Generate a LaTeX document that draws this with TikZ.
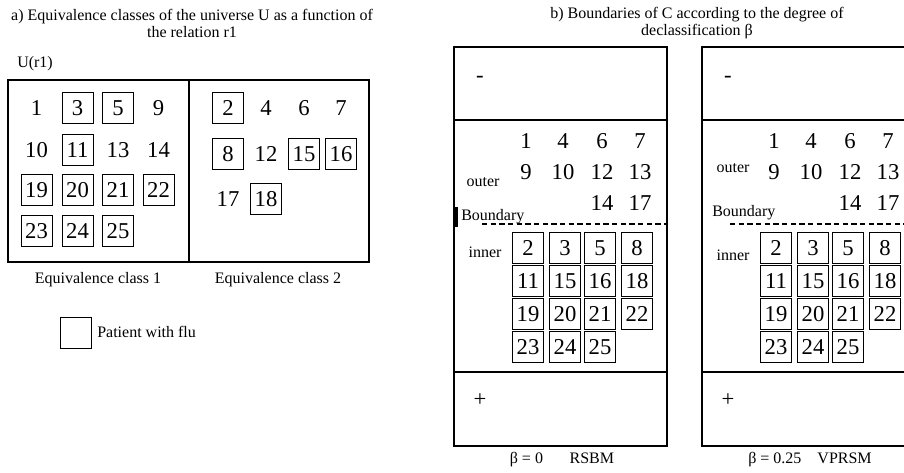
\documentclass[tikz,border=0pt]{standalone}
\usepackage{fontspec}
\setmainfont{Liberation Serif}

\tikzset{
    rahmen/.style={line width=2pt},
    zahl/.style={font=\fontsize{17}{20}\selectfont, inner sep=0pt},
    zahlbox/.style={zahl, draw, line width=0.6pt, minimum size=23.25pt},
    klein/.style={font=\fontsize{12}{12.75}\selectfont, inner sep=0pt},
    grenze/.style={line width=0.8pt, dash pattern=on 4pt off 2.5pt}
}

\begin{document}
\begin{tikzpicture}[x=0.75pt, y=-0.75pt]

        \useasboundingbox (0,0) rectangle (904,472);
        \clip (0,0) rectangle (904,472);

        \coordinate (universum) at (8,80);

        % Teil a
        \node [klein, align=center] (titela) at (192,23) {a) Equivalence classes of the universe U as a function of\\the relation r1};
        \node [klein, anchor=west] (ur) at (17,64) {U(r1)};

        \draw [rahmen] (universum) rectangle ++(361,182);
        \draw [rahmen] ([xshift=181*0.75pt]universum) -- ++(0,182);

        % Klasse 1
        \foreach \x/\y/\z in {36.5/108/1, 158.5/108/9, 36.5/150/10, 118/150/13, 158.5/150/14}
            \node [zahl] (ka-\z) at (\x,\y) {\z};
        \foreach \x/\y/\z in {77.5/108/3, 118/108/5, 77.5/150/11, 36.5/190/19, 77.5/190/20, 118/190/21, 158.5/190/22, 36.5/231/23, 77.5/231/24, 118/231/25}
            \node [zahlbox] (ka-\z) at (\x,\y) {\z};
        % Klasse 2
        \foreach \x/\y/\z in {266/108/4, 304/108/6, 341/108/7, 266/154/12, 228/199/17}
            \node [zahl] (kb-\z) at (\x,\y) {\z};
        \foreach \x/\y/\z in {228/108/2, 228/154/8, 304/154/15, 341/154/16, 266/199/18}
            \node [zahlbox] (kb-\z) at (\x,\y) {\z};

        \node [klein] (klassea) at (98,280) {Equivalence class 1};
        \node [klein] (klasseb) at (278,280) {Equivalence class 2};

        % Legende
        \node [draw, line width=0.6pt, minimum size=23.25pt, inner sep=0pt] (legende) at (75.5,332.5) {};
        \node [klein, anchor=west] (legendetext) at (97,332) {Patient with flu};

        % Teil b
        \node [klein, align=center] (titelb) at (697,23) {b) Boundaries of C according to the degree of\\declassification β};

        \foreach \links/\name in {454/rsbm, 702/vprsm}
        {
            \begin{scope}[xshift=\links*0.75pt]
                \draw [rahmen] (0,47) rectangle (213,446);
                \draw [rahmen] (0,120) -- (213,120);
                \draw [rahmen] (0,372) -- (213,372);
                \node [zahl] (\name-minus) at (26,79) {-};
                \node [zahl] (\name-plus) at (26,400) {+};
                \draw [grenze] (28,224) -- (213,224);
                % aeussere Grenze
                \foreach \x/\y/\z in {72/141/1, 109/141/4, 148/141/6, 186/141/7, 72/172/9, 109/172/10, 148/172/12, 186/172/13, 148/203/14, 186/203/17}
                    \node [zahl] (\name-\z) at (\x,\y) {\z};
                % innere Grenze
                \foreach \x/\y/\z in {74/248/2, 111/248/3, 146/248/5, 183/248/8, 74/281/11, 111/281/15, 146/281/16, 183/281/18, 74/314/19, 111/314/20, 146/314/21, 183/314/22, 74/347/23, 111/347/24, 146/347/25}
                    \node [zahlbox] (\name-\z) at (\x,\y) {\z};
            \end{scope}
        }

        \node [klein] (outera) at (483,182) {outer};
        \node [klein, anchor=west] (boundarya) at (461,217) {Boundary};
        \node [klein] (innera) at (485,252) {inner};
        \draw [line width=2.5pt] (456,207) -- (456,227);
        \node [klein] (betaa) at (562,460) {β = 0\hspace{20pt}RSBM};

        \node [klein] (outerb) at (733,168) {outer};
        \node [klein, anchor=west] (boundaryb) at (712,213) {Boundary};
        \node [klein] (innerb) at (733,255) {inner};
        \node [klein] (betab) at (810,460) {β = 0.25\hspace{12pt}VPRSM};

\end{tikzpicture}
\end{document}
